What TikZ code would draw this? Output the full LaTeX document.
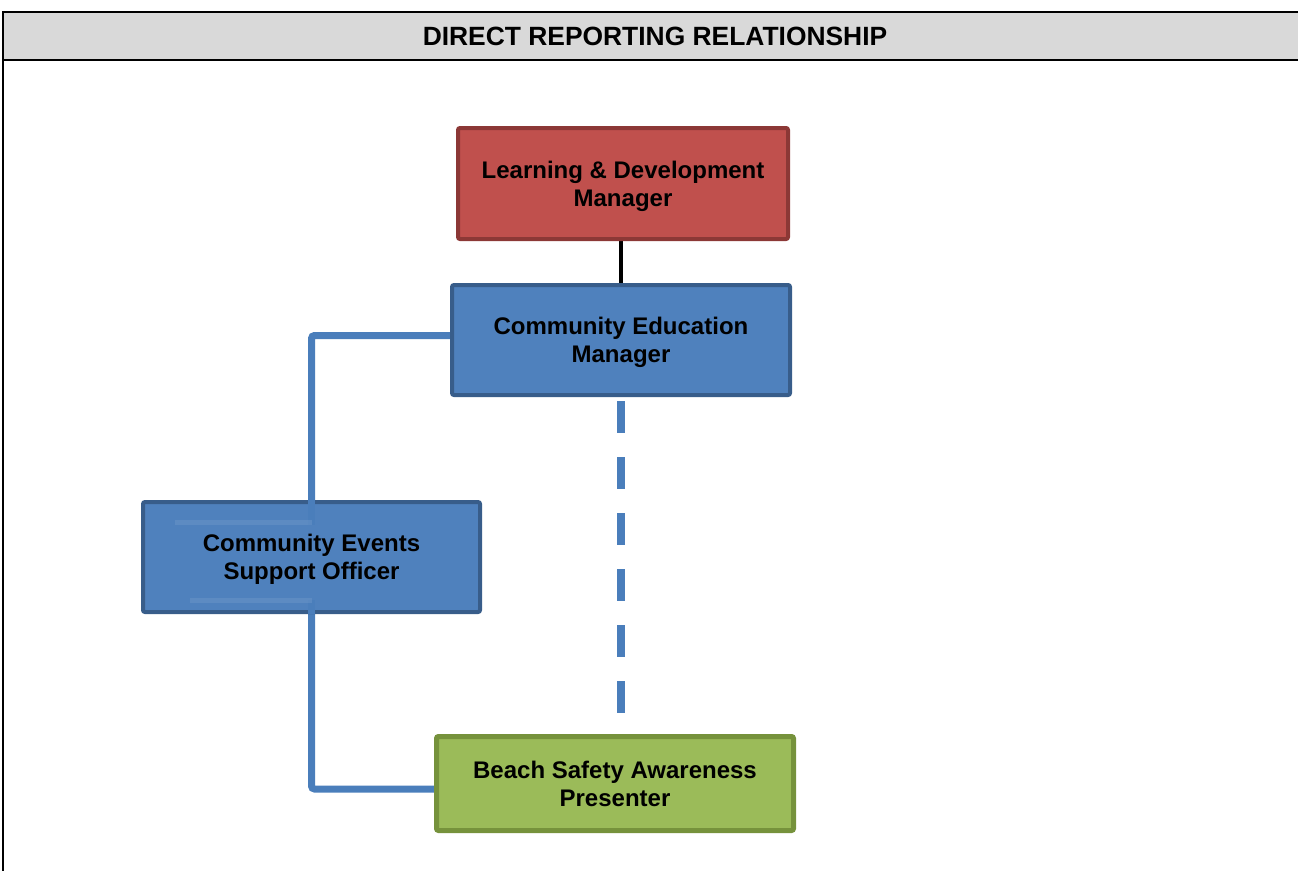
\documentclass[tikz,border=0pt]{standalone}
\usepackage{fontspec}
\setmainfont{Liberation Sans}
\usetikzlibrary{backgrounds}

\definecolor{hdrgray}{HTML}{D9D9D9}
\definecolor{redfill}{HTML}{C0504D}
\definecolor{redline}{HTML}{8C3836}
\definecolor{bluefill}{HTML}{4F81BD}
\definecolor{blueline}{HTML}{385D8A}
\definecolor{greenfill}{HTML}{9BBB59}
\definecolor{greenline}{HTML}{76923C}
\definecolor{linkblue}{HTML}{4A7EBB}

\tikzset{
  role/.style={draw, rounded corners=2pt, line width=4pt, align=center,
    inner sep=0pt, text depth=0pt, font=\bfseries\fontsize{24}{28}\selectfont},
  redrole/.style={role, fill=redfill, draw=redline},
  bluerole/.style={role, fill=bluefill, draw=blueline},
  greenrole/.style={role, fill=greenfill, draw=greenline, line width=5pt},
  link/.style={draw=linkblue, line width=7pt, rounded corners=3pt},
  dottedlink/.style={draw=linkblue, line width=8pt, dash pattern=on 32pt off 24pt},
  solidlink/.style={draw=black, line width=4pt},
  frame/.style={draw=black, line width=2pt}
}

\begin{document}
\begin{tikzpicture}[x=1pt,y=-1pt]
\useasboundingbox (0,0) rectangle (1298,870);

% table header
\fill[hdrgray] (3,12) rectangle (1300,60);
\draw[frame] (1300,12) -- (3,12) -- (3,872);
\draw[frame] (3,60) -- (1300,60);
\node[font=\bfseries\fontsize{26.4}{30}\selectfont] (title) at (655,36.5)
  {DIRECT REPORTING RELATIONSHIP};

% positions
\node[redrole, minimum width=330pt, minimum height=111pt] (ld) at (623,183.5)
  {Learning \& Development\\Manager};
\node[bluerole, minimum width=338pt, minimum height=110pt] (cem) at (621,340)
  {Community Education\\Manager};
\node[bluerole, minimum width=337pt, minimum height=110pt] (ceso) at (311.5,557)
  {Community Events\\Support Officer};
\node[greenrole, minimum width=357pt, minimum height=94pt] (bsap) at (615,783.5)
  {Beach Safety Awareness\\Presenter};

% reporting lines behind the boxes
\begin{pgfonlayer}{background}
  \draw[solidlink] ([xshift=-2pt]ld.south) -- ([xshift=-2pt]ld.south |- cem.north);
  \draw[dottedlink] ([yshift=-4pt]cem.south) -- (cem.south |- bsap.north);
  \draw[link] ([yshift=4.5pt]cem.west) -| (ceso.center) |- ([yshift=-5.5pt]bsap.west);
\end{pgfonlayer}

% line segments showing through the officer box
\draw[draw=linkblue, line width=7pt] (ceso.north) -- ++(0,25);
\draw[draw=linkblue, line width=7pt] (ceso.south) -- ++(0,-14);
\draw[draw=linkblue!70!white, opacity=0.3, line width=5pt] (175,522) -- (ceso.center |- 0,522);
\draw[draw=linkblue!70!white, opacity=0.3, line width=5pt] (190,600) -- (ceso.center |- 0,600);
\end{tikzpicture}
\end{document}
